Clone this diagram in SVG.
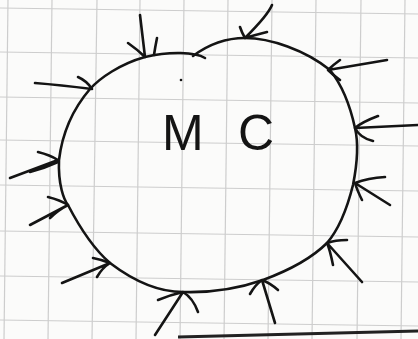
<svg xmlns="http://www.w3.org/2000/svg" width="418" height="339" viewBox="0 0 418 339">
<style>
.grid line{stroke:#cdcdcd;stroke-width:1.2}
.ink{fill:none;stroke:#141414;stroke-width:2.6;stroke-linecap:round;stroke-linejoin:round}
.lbl{font-family:"Liberation Sans",Arial,sans-serif;font-size:50px;fill:#141414}
</style>
<rect width="418" height="339" fill="#fbfbfa"/>
<g class="grid">
<line x1="8" y1="0" x2="4" y2="339"/>
<line x1="52" y1="0" x2="48" y2="339"/>
<line x1="97" y1="0" x2="92" y2="339"/>
<line x1="140" y1="0" x2="136" y2="339"/>
<line x1="184" y1="0" x2="180" y2="339"/>
<line x1="228" y1="0" x2="224" y2="339"/>
<line x1="272" y1="0" x2="268" y2="339"/>
<line x1="316" y1="0" x2="312" y2="339"/>
<line x1="361" y1="0" x2="357" y2="339"/>
<line x1="405" y1="0" x2="401" y2="339"/>
<line x1="0" y1="8" x2="418" y2="14"/>
<line x1="0" y1="52" x2="418" y2="58"/>
<line x1="0" y1="97" x2="418" y2="103"/>
<line x1="0" y1="140" x2="418" y2="146"/>
<line x1="0" y1="185" x2="418" y2="191"/>
<line x1="0" y1="231" x2="418" y2="237"/>
<line x1="0" y1="276" x2="418" y2="282"/>
<line x1="0" y1="320" x2="418" y2="326"/>
</g>
<path d="M178,337 L418,331" stroke="#222" stroke-width="3" fill="none"/>
<g id="mc">
<path class="ink" d="M205,58 C195,52 170,51 145,57 C120,64 100,78 90,89 C72,110 62,135 59,160 C58,185 64,200 68,205 C82,232 95,250 110,263 C135,282 160,292 183,292 C215,293 240,288 263,280 C290,270 312,258 327,243 C340,228 348,205 353,185 C357,165 359,145 355,128 C350,105 342,85 330,70 C305,50 270,38 245,38 C222,38 205,47 193,56"/>
<circle cx="181" cy="80" r="1.3" fill="#141414"/>
<text class="lbl" x="162" y="150" textLength="112" lengthAdjust="spacing">MC</text>
</g>
<g id="connectors" class="ink">
<path d="M140,15 L145,57 M128,43 Q138,50 145,57 M157,38 Q155,48 154,55"/>
<path d="M272,5 Q268,15 245,38 M240,27 Q242,33 245,38 M267,32 Q255,35 245,38"/>
<path d="M387,60 L328,70 M340,60 Q333,65 328,70 M340,80 Q333,75 328,70"/>
<path d="M418,125 L355,128 M378,116 Q362,122 355,128 M373,141 Q360,138 355,128"/>
<path d="M35,83 Q60,85 92,89 M78,77 Q87,81 92,89"/>
<path d="M10,178 L58,160 M38,152 Q50,155 58,160 M30,172 Q45,168 58,162"/>
<path d="M30,225 L68,205 M48,197 Q60,200 68,205 M50,218 Q58,210 68,205"/>
<path d="M62,283 L110,263 M93,258 Q103,260 110,263 M97,277 Q102,268 110,263"/>
<path d="M155,335 L183,292 M158,300 Q170,295 183,292 M198,312 Q193,298 183,292"/>
<path d="M275,323 L262,280 M250,294 Q255,285 262,280 M278,290 Q270,283 262,280"/>
<path d="M362,282 L327,243 M347,240 Q335,240 327,243 M333,265 Q330,250 327,243"/>
<path d="M390,205 L355,183 M385,177 Q368,178 355,183 M362,200 Q357,190 355,183"/>
</g>
</svg>
